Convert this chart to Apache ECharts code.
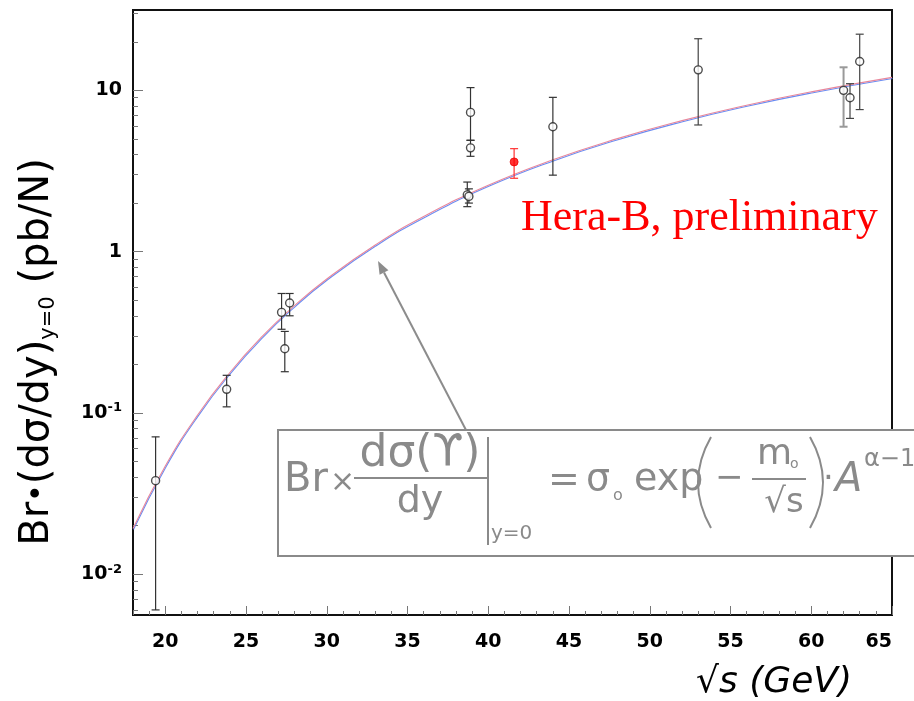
<!DOCTYPE html>
<html>
<head>
<meta charset="utf-8">
<script src="https://cdn.jsdelivr.net/npm/echarts@6/dist/echarts.min.js"></script>
<style>
  html, body { margin: 0; padding: 0; background: #fff; }
  #chart { width: 914px; height: 701px; }
</style>
</head>
<body>
<div id="chart"></div>
<script>
// Upsilon production, Br x dsigma/dy at y=0, versus sqrt(s) in GeV.
// Fixed-target measurements (value with lower / upper end of error bar)
const fixedTargetSqrtS = [19.4, 23.8, 27.2, 27.4, 27.7, 38.9, 38.9, 38.7, 38.8, 44.0];
const fixedTargetValue = [0.038, 0.14, 0.42, 0.25, 0.48, 7.3, 4.4, 2.25, 2.2, 5.95];
const fixedTargetLow   = [0.006, 0.109, 0.33, 0.18, 0.40, 4.9, 3.9, 1.9, 2.0, 2.98];
const fixedTargetHigh  = [0.071, 0.171, 0.55, 0.32, 0.55, 10.4, 4.9, 2.7, 2.45, 9.05];

// Collider (ISR) measurements
const isrSqrtS = [53.0, 62.4, 63.0];
const isrValue = [13.4, 9.0, 15.1];
const isrLow   = [6.1, 6.7, 7.6];
const isrHigh  = [20.9, 11.0, 22.3];

const isrWideSqrtS = [62.0];
const isrWideValue = [10.0];
const isrWideLow   = [5.95];
const isrWideHigh  = [13.9];

// HERA-B point
const heraBSqrtS = [41.6];
const heraBValue = [3.6];
const heraBLow   = [2.85];
const heraBHigh  = [4.35];

// Fitted curve sampled along sqrt(s)
const fitSqrtS = [18, 20, 22, 24, 26, 28, 30, 33, 36, 40, 44, 48, 52, 56, 60, 65];
const fitValue = [0.0192, 0.0468, 0.097, 0.178, 0.298, 0.462, 0.677, 1.10, 1.65, 2.58, 3.71, 5.02, 6.49, 8.09, 9.79, 12.03];

// Axis ticks
const xLabelTicks = [20, 25, 30, 35, 40, 45, 50, 55, 60, 65];
const yLabelTicks = [0.01, 0.1, 1, 10];
const yMinorTicks = [0.006, 0.007, 0.008, 0.009,
  0.02, 0.03, 0.04, 0.05, 0.06, 0.07, 0.08, 0.09,
  0.2, 0.3, 0.4, 0.5, 0.6, 0.7, 0.8, 0.9,
  2, 3, 4, 5, 6, 7, 8, 9, 20, 30];

const X_MIN = 18, X_MAX = 65;
const Y_MIN = 0.00558, Y_MAX = 31.5;

const LABEL_FONT = "'Comic Sans MS', 'DejaVu Sans', sans-serif";
const FORMULA_GRAY = '#8a8a8a';

const zip = (xs, ys) => xs.map((x, i) => [x, ys[i]]);
const zip3 = (xs, lo, hi) => xs.map((x, i) => [x, lo[i], hi[i]]);

function errorBars(xs, lo, hi, color, width, cap) {
  return {
    type: 'custom',
    silent: true,
    z: 3,
    data: zip3(xs, lo, hi),
    encode: { x: 0, y: [1, 2] },
    renderItem(params, api) {
      const x = api.value(0);
      const top = api.coord([x, api.value(2)]);
      const bot = api.coord([x, api.value(1)]);
      const st = { stroke: color, lineWidth: width };
      return {
        type: 'group',
        children: [
          { type: 'line', shape: { x1: top[0], y1: top[1], x2: bot[0], y2: bot[1] }, style: st },
          { type: 'line', shape: { x1: top[0] - cap, y1: top[1], x2: top[0] + cap, y2: top[1] }, style: st },
          { type: 'line', shape: { x1: bot[0] - cap, y1: bot[1], x2: bot[0] + cap, y2: bot[1] }, style: st }
        ]
      };
    }
  };
}

function openPoints(xs, ys) {
  return {
    type: 'scatter',
    z: 4,
    symbol: 'circle',
    symbolSize: 8,
    itemStyle: { color: '#fff', borderColor: '#222', borderWidth: 1.4 },
    data: zip(xs, ys)
  };
}

const chart = echarts.init(document.getElementById('chart'), null, { renderer: 'canvas' });

// arrow from the formula box up to the curve
const arrowTail = [466, 430], arrowTip = [378, 261];
const adx = arrowTip[0] - arrowTail[0], ady = arrowTip[1] - arrowTail[1];
const alen = Math.hypot(adx, ady), ux = adx / alen, uy = ady / alen;
const headLen = 13, headHalf = 5;
const base = [arrowTip[0] - ux * headLen, arrowTip[1] - uy * headLen];

function ftext(text, x, y, size, extra) {
  return {
    type: 'text', x: x, y: y, z: 110,
    style: Object.assign({
      text: text, fill: FORMULA_GRAY, font: size + 'px ' + LABEL_FONT,
      align: 'left', verticalAlign: 'middle'
    }, extra || {})
  };
}
function fline(x1, y1, x2, y2) {
  return { type: 'line', z: 110, shape: { x1, y1, x2, y2 }, style: { stroke: FORMULA_GRAY, lineWidth: 2 } };
}
function fparen(x, yTop, yBot, bulge) {
  return {
    type: 'bezierCurve', z: 110,
    shape: { x1: x, y1: yTop, x2: x, y2: yBot, cpx1: x + bulge, cpy1: (yTop + yBot) / 2 },
    style: { stroke: FORMULA_GRAY, lineWidth: 2, fill: null }
  };
}

const option = {
  animation: false,
  backgroundColor: '#fff',
  grid: {
    left: 133, right: 22, top: 10, bottom: 86,
    show: true, borderColor: '#111', borderWidth: 2, backgroundColor: 'transparent',
    outerBoundsMode: 'none'
  },
  xAxis: [
    {
      type: 'value', min: X_MIN, max: X_MAX, position: 'bottom',
      axisLine: { show: false },
      splitLine: { show: false },
      axisTick: { show: true, inside: true, length: 9, customValues: xLabelTicks, lineStyle: { color: '#777', width: 1 } },
      axisLabel: {
        customValues: xLabelTicks, margin: 18, color: '#000',
        fontFamily: LABEL_FONT, fontWeight: 'bold', fontSize: 19, alignMaxLabel: 'right'
      }
    },
    {
      type: 'value', min: X_MIN, max: X_MAX, interval: 1, position: 'bottom',
      axisLine: { show: false }, splitLine: { show: false },
      axisLabel: { show: false },
      axisTick: { show: true, inside: true, length: 4, lineStyle: { color: '#777', width: 1 } }
    }
  ],
  yAxis: [
    {
      type: 'log', logBase: 10, min: Y_MIN, max: Y_MAX, position: 'left',
      axisLine: { show: false },
      splitLine: { show: false },
      axisTick: { show: true, inside: true, length: 10, customValues: yLabelTicks, lineStyle: { color: '#777', width: 1 } },
      axisLabel: {
        customValues: yLabelTicks, margin: 11, color: '#000',
        formatter: function (v) {
          const e = Math.round(Math.log10(v));
          if (e === 0) return '{b|1}';
          if (e === 1) return '{b|10}';
          return '{b|10}{s|' + e + '}';
        },
        rich: {
          b: { fontFamily: LABEL_FONT, fontWeight: 'bold', fontSize: 19, color: '#000' },
          s: { fontFamily: LABEL_FONT, fontWeight: 'bold', fontSize: 13, color: '#000', padding: [0, 0, 10, 0] }
        }
      }
    },
    {
      type: 'log', logBase: 10, min: Y_MIN, max: Y_MAX, position: 'left',
      axisLine: { show: false }, splitLine: { show: false },
      axisLabel: { show: false },
      axisTick: { show: true, inside: true, length: 5, customValues: yMinorTicks, lineStyle: { color: '#777', width: 1 } }
    }
  ],
  series: [
    {
      type: 'line', z: 2, smooth: true, showSymbol: false, silent: true,
      data: zip(fitSqrtS, fitValue),
      lineStyle: {
        color: '#e8889c', width: 1.1,
        shadowColor: 'rgba(80,120,240,0.85)', shadowBlur: 0, shadowOffsetY: 1.1, shadowOffsetX: 0.5
      }
    },
    errorBars(fixedTargetSqrtS, fixedTargetLow, fixedTargetHigh, '#333', 1.2, 4),
    errorBars(isrSqrtS, isrLow, isrHigh, '#444', 1.2, 4),
    errorBars(isrWideSqrtS, isrWideLow, isrWideHigh, '#999', 2, 4),
    errorBars(heraBSqrtS, heraBLow, heraBHigh, '#f33', 1.2, 4),
    openPoints(fixedTargetSqrtS, fixedTargetValue),
    openPoints(isrSqrtS, isrValue),
    openPoints(isrWideSqrtS, isrWideValue),
    {
      type: 'scatter', z: 5, symbol: 'circle', symbolSize: 8,
      itemStyle: { color: '#f00', borderColor: '#e00', borderWidth: 1 },
      data: zip(heraBSqrtS, heraBValue)
    }
  ],
  graphic: [
    // axis titles
    {
      type: 'text', x: 38, y: 352, rotation: Math.PI / 2, z: 50,
      style: {
        text: '{m|Br}{d|•}{m|(dσ/dy)}{s|y=0}{m| (pb/N)}',
        align: 'center', verticalAlign: 'middle',
        rich: {
          m: { fontFamily: LABEL_FONT, fontSize: 40, fill: '#000', verticalAlign: 'middle' },
          d: { fontFamily: LABEL_FONT, fontSize: 30, fill: '#000', verticalAlign: 'middle' },
          s: { fontFamily: LABEL_FONT, fontSize: 21, fill: '#000', verticalAlign: 'middle', padding: [22, 0, 0, 0] }
        }
      }
    },
    {
      type: 'text', x: 852, y: 683, z: 50,
      style: {
        text: '√s (GeV)', fill: '#000',
        font: "italic 36px " + LABEL_FONT,
        align: 'right', verticalAlign: 'middle'
      }
    },
    {
      type: 'text', x: 521, y: 218, z: 50,
      style: {
        text: 'Hera-B, preliminary', fill: '#ff0000',
        font: "44px 'Liberation Serif', 'Times New Roman', serif",
        align: 'left', verticalAlign: 'middle'
      }
    },
    // arrow
    { type: 'line', z: 60, shape: { x1: arrowTail[0], y1: arrowTail[1], x2: base[0], y2: base[1] },
      style: { stroke: '#8c8c8c', lineWidth: 2 } },
    { type: 'polygon', z: 60,
      shape: { points: [arrowTip,
        [base[0] - uy * headHalf, base[1] + ux * headHalf],
        [base[0] + uy * headHalf, base[1] - ux * headHalf]] },
      style: { fill: '#8c8c8c' } },
    // formula box
    { type: 'rect', z: 100, shape: { x: 278, y: 430, width: 700, height: 126 },
      style: { fill: '#fff', stroke: FORMULA_GRAY, lineWidth: 2 } },
    ftext('Br', 284, 481, 40),
    ftext('×', 330, 483, 30),
    ftext('dσ(ϒ)', 420, 455, 44, { align: 'center' }),
    fline(354, 478, 487, 478),
    ftext('dy', 420, 502, 38, { align: 'center' }),
    fline(488, 437, 488, 545),
    ftext('y=0', 491, 534, 20),
    ftext('=', 548, 481, 38),
    ftext('σ', 586, 480, 38),
    ftext('o', 613, 496, 16),
    ftext('exp', 634, 480, 38),
    fparen(711, 437, 528, -26),
    ftext('−', 715, 479, 34),
    ftext('m', 757, 455, 36),
    ftext('o', 790, 464, 14),
    fline(752, 479, 806, 479),
    ftext('√s', 784, 503, 34, { align: 'center' }),
    fparen(810, 437, 528, 26),
    ftext('·', 823, 480, 34),
    ftext('A', 835, 481, 40, { font: 'italic 40px ' + LABEL_FONT }),
    ftext('α−1', 864, 460, 24)
  ]
};

chart.setOption(option);
</script>
</body>
</html>
